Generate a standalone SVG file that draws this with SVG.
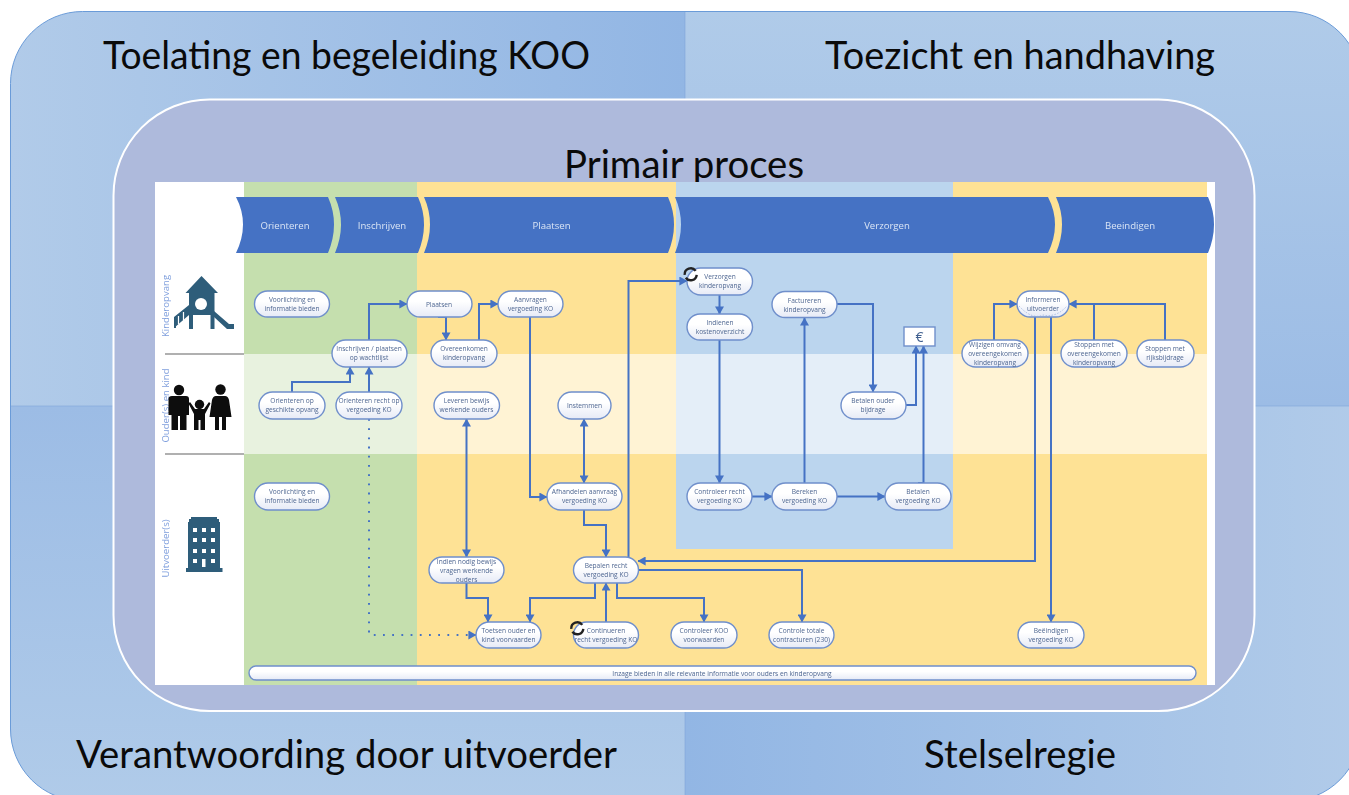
<svg xmlns="http://www.w3.org/2000/svg" width="1349" height="795" viewBox="0 0 1349 795">
<style>
.t{font-family:"Lato","Open Sans",sans-serif;font-size:38px;fill:#0a0a0a;text-anchor:middle}
.n rect{fill:url(#ng);stroke:#6f8fcb;stroke-width:1.4}
.n text{font-family:"Open Sans","Noto Sans",sans-serif;font-size:6.6px;fill:#4e6691;text-anchor:middle}
.ch{fill:#4472c4}
.cht{font-family:"Open Sans","Noto Sans",sans-serif;font-size:9.6px;fill:#dbe5f5;text-anchor:middle}
.lane{font-family:"Open Sans","Noto Sans",sans-serif;font-size:9.6px;fill:#7f9fdd;text-anchor:middle}
.c{fill:none;stroke:#4472c4;stroke-width:2}
.ic{fill:#2f5d7a}
.k{fill:#0a0a0a}
</style>
<defs>
<filter id="soft" x="0" y="0" width="1" height="1"><feGaussianBlur stdDeviation="0.35"/></filter>
<linearGradient id="ng" x1="0" y1="0" x2="0" y2="1"><stop offset="0.4" stop-color="#ffffff"/><stop offset="1" stop-color="#e6eaf6"/></linearGradient>
<linearGradient id="q1" x1="0" y1="0" x2="1" y2="0"><stop offset="0" stop-color="#b1cbe9"/><stop offset="1" stop-color="#92b6e4"/></linearGradient>
<linearGradient id="q2" x1="0" y1="0" x2="0" y2="1"><stop offset="0" stop-color="#b0cbe9"/><stop offset="1" stop-color="#9cbce5"/></linearGradient>
<linearGradient id="q3" x1="0" y1="0" x2="0" y2="1"><stop offset="0" stop-color="#9cbce5"/><stop offset="1" stop-color="#b0cbe9"/></linearGradient>
<linearGradient id="q4" x1="0" y1="0" x2="1" y2="0"><stop offset="0" stop-color="#92b6e4"/><stop offset="1" stop-color="#b1cbe9"/></linearGradient>
<clipPath id="outer"><rect x="10.500" y="11.500" width="1350.500" height="789.500" rx="72"/></clipPath>
<marker id="a" viewBox="0 0 8 9" refX="7.600" refY="4.500" markerWidth="8" markerHeight="9" markerUnits="userSpaceOnUse" orient="auto-start-reverse"><path d="M0 0L8 4.500L0 9Z" fill="#4472c4"/></marker>
</defs>

<g id="background">
<g clip-path="url(#outer)">
<rect x="10" y="11" width="675" height="395" fill="url(#q1)"/>
<rect x="685" y="11" width="677" height="395" fill="url(#q2)"/>
<rect x="10" y="406" width="675" height="396" fill="url(#q3)"/>
<rect x="685" y="406" width="677" height="396" fill="url(#q4)"/>
<path d="M685 11V802M10 406H1362" stroke="#7fa6d9" stroke-width="0.6" fill="none"/>
</g>
<rect x="10.500" y="11.500" width="1350.500" height="789.500" rx="72" fill="none" stroke="#6a9bd8" stroke-width="1"/>
<rect x="113.500" y="99.500" width="1141" height="611.500" rx="96" fill="#aebadc" stroke="#ffffff" stroke-width="2"/>
</g>

<g id="titles">
<text class="t" x="346.500" y="69" textLength="487" lengthAdjust="spacingAndGlyphs">Toelating en begeleiding KOO</text>
<text class="t" x="1020" y="69" textLength="390" lengthAdjust="spacingAndGlyphs">Toezicht en handhaving</text>
<text class="t" x="346.500" y="768" textLength="541" lengthAdjust="spacingAndGlyphs">Verantwoording door uitvoerder</text>
<text class="t" x="1020" y="768" textLength="192" lengthAdjust="spacingAndGlyphs">Stelselregie</text>
<text class="t" x="684" y="177.500" textLength="240" lengthAdjust="spacingAndGlyphs">Primair proces</text>
</g>

<g id="process" filter="url(#soft)">
<g id="swimlanes">
<rect x="155" y="182" width="1060" height="503" fill="#ffffff"/>
<rect x="244" y="182" width="173" height="503" fill="#c5dfae"/>
<rect x="417" y="182" width="259" height="503" fill="#fee295"/>
<rect x="676" y="182" width="277" height="367" fill="#bbd5ee"/>
<rect x="676" y="549" width="277" height="136" fill="#fee295"/>
<rect x="953" y="182" width="254" height="503" fill="#fee295"/>
<rect x="244" y="354" width="963" height="100" fill="#ffffff" fill-opacity="0.6"/>
<path d="M165 354H244M165 454H244" stroke="#969696" stroke-width="1.300" fill="none"/>
<text class="lane" transform="translate(168.500 306) rotate(-90)">Kinderopvang</text>
<text class="lane" transform="translate(168.500 405.500) rotate(-90)">Ouder(s) en kind</text>
<text class="lane" transform="translate(168.500 548.500) rotate(-90)">Uitvoerder(s)</text>
</g>

<g id="icon-playground">
<path class="ic" d="M201.500 276L218 293H214.500V329H210.500V315H193V329H189V293H185.500Z"/>
<circle cx="201" cy="304" r="6" fill="#ffffff"/>
<path class="ic" d="M174 328L189 315V305L174 317ZM174 317V328H176V317Z"/>
<path class="ic" d="M214 311L229 324H234V329H227L214 317Z"/>
<path d="M178.500 316V324M183.500 312V320" stroke="#ffffff" stroke-width="1.200"/>
</g>
<g id="icon-family">
<circle class="k" cx="179" cy="390" r="5.200"/>
<path class="k" d="M172 396H186Q189 396 189 399V415H186.500V430H180V416H178V430H171.500V415H168.500V399Q168.500 396 172 396Z"/>
<circle class="k" cx="199.500" cy="404.500" r="4.700"/>
<path class="k" d="M190 402L195 409H204L209 402L210.500 403.500L205 414V430H200.500V420H198.500V430H194V414L188.500 403.500Z"/>
<circle class="k" cx="220.500" cy="389.500" r="5.200"/>
<path class="k" d="M216 396H225Q228 396 229 400L231.500 417H226V430H222V417H219V430H215V417H209.500L212 400Q213 396 216 396Z"/>
</g>
<g id="icon-building">
<path class="ic" d="M191 517H217V519H219V522H220V568H222.500V572H186V568H188V522H189V519H191Z"/>
<path fill="#ffffff" d="M193 528h4v4h-4zM202 528h4v4h-4zM211 528h4v4h-4zM193 538h4v4h-4zM202 538h4v4h-4zM211 538h4v4h-4zM193 549h4v4h-4zM202 549h4v4h-4zM211 549h4v4h-4zM193 559h4v4h-4zM202 559h3.500v8h-3.500zM211 559h4v4h-4z"/>
</g>

<g id="phases">
<g id="phase-orienteren"><path class="ch" d="M236 197H328Q340 224 328 253H236Q250 224 236 197Z"/><text class="cht" x="285" y="228.500">Orienteren</text></g>
<g id="phase-inschrijven"><path class="ch" d="M335 197H418Q430 224 418 253H335Q347 224 335 197Z"/><text class="cht" x="382" y="228.500">Inschrijven</text></g>
<g id="phase-plaatsen"><path class="ch" d="M424 197H668Q680 224 668 253H424Q436 224 424 197Z"/><text class="cht" x="551.500" y="228.500">Plaatsen</text></g>
<g id="phase-verzorgen"><path class="ch" d="M675 197H1048Q1062 224 1048 253H675Q687 224 675 197Z"/><text class="cht" x="887" y="228.500">Verzorgen</text></g>
<g id="phase-beeindigen"><path class="ch" d="M1056 197H1208Q1220 224 1208 253H1056Q1068 224 1056 197Z"/><text class="cht" x="1130" y="228.500">Beeindigen</text></g>
</g>

<g id="connectors">
<path class="c" marker-end="url(#a)" d="M369 340V304H407"/>
<path class="c" marker-end="url(#a)" d="M292 392V382H350V367"/>
<path class="c" marker-end="url(#a)" d="M369 392V367"/>
<path class="c" marker-end="url(#a)" stroke-dasharray="1.800 7.400" d="M369 419V635H476"/>
<path class="c" marker-end="url(#a)" d="M438 317H446V340"/>
<path class="c" marker-end="url(#a)" d="M479 340V304H498"/>
<path class="c" marker-end="url(#a)" d="M530 317V497H547"/>
<path class="c" marker-start="url(#a)" marker-end="url(#a)" d="M466.500 419V557"/>
<path class="c" marker-start="url(#a)" marker-end="url(#a)" d="M584 419V483"/>
<path class="c" marker-end="url(#a)" d="M584 510V525H606V557"/>
<path class="c" marker-end="url(#a)" d="M466.500 583V598H488V622"/>
<path class="c" marker-end="url(#a)" d="M595 583V598H530V622"/>
<path class="c" marker-end="url(#a)" d="M606 622V583"/>
<path class="c" marker-end="url(#a)" d="M617 583V598H704V622"/>
<path class="c" marker-end="url(#a)" d="M638 570H802V622"/>
<path class="c" marker-end="url(#a)" d="M628.500 557V281H687"/>
<path class="c" marker-end="url(#a)" d="M719.500 295V314"/>
<path class="c" marker-end="url(#a)" d="M719.500 340V483"/>
<path class="c" marker-end="url(#a)" d="M752 496.500H772"/>
<path class="c" marker-end="url(#a)" d="M804.500 483V318"/>
<path class="c" marker-end="url(#a)" d="M837 496.500H885"/>
<path class="c" marker-end="url(#a)" d="M837 304H873V392"/>
<path class="c" marker-end="url(#a)" d="M906 405H916V346"/>
<path class="c" marker-end="url(#a)" d="M918 483H923.500V346"/>
<path class="c" marker-end="url(#a)" d="M994 340V304H1017"/>
<path class="c" marker-end="url(#a)" d="M1094 340V304H1069"/>
<path class="c" d="M1165 340V304H1094"/>
<path class="c" marker-end="url(#a)" d="M1035 317V561H638"/>
<path class="c" marker-end="url(#a)" d="M1051 317V622"/>
</g>

<g id="n1" class="n"><rect x="254.500" y="291" width="75" height="26" rx="13"/><text x="292" y="302">Voorlichting en</text><text x="292" y="311">informatie bieden</text></g>
<g id="n2" class="n"><rect x="407" y="291" width="65" height="26" rx="13"/><text x="439" y="306.500">Plaatsen</text></g>
<g id="n3" class="n"><rect x="332" y="340" width="75" height="27" rx="13.500"/><text x="369" y="351">Inschrijven / plaatsen</text><text x="369" y="360">op wachtlijst</text></g>
<g id="n4" class="n"><rect x="259" y="392" width="66" height="27" rx="13.500"/><text x="292" y="403">Orienteren op</text><text x="292" y="412">geschikte opvang</text></g>
<g id="n5" class="n"><rect x="336" y="392" width="66" height="27" rx="13.500"/><text x="369" y="403">Orienteren recht op</text><text x="369" y="412">vergoeding KO</text></g>
<g id="n6" class="n"><rect x="431" y="340" width="66" height="27" rx="13.500"/><text x="464" y="351">Overeenkomen</text><text x="464" y="360">kinderopvang</text></g>
<g id="n7" class="n"><rect x="498" y="291" width="65" height="26" rx="13"/><text x="530.500" y="302">Aanvragen</text><text x="530.500" y="311">vergoeding KO</text></g>
<g id="n8" class="n"><rect x="434" y="392" width="65.500" height="27" rx="13.500"/><text x="466.500" y="403">Leveren bewijs</text><text x="466.500" y="412">werkende ouders</text></g>
<g id="n9" class="n"><rect x="558" y="392" width="53" height="27" rx="13.500"/><text x="584.500" y="408">Instemmen</text></g>
<g id="n10" class="n"><rect x="687" y="268" width="65.500" height="27" rx="13.500"/><text x="720" y="279">Verzorgen</text><text x="720" y="288">kinderopvang</text></g>
<g id="n11" class="n"><rect x="687" y="314" width="65.500" height="26" rx="13"/><text x="720" y="325">Indienen</text><text x="720" y="334">kostenoverzicht</text></g>
<g id="n12" class="n"><rect x="772" y="291.500" width="65" height="26" rx="13"/><text x="804.500" y="302.500">Factureren</text><text x="804.500" y="311.500">kinderopvang</text></g>
<g id="n13"><rect x="904" y="327" width="31" height="19" fill="#ffffff" stroke="#6f8fcb" stroke-width="1.400"/><text x="919.500" y="342" font-family="'Open Sans',sans-serif" font-size="14" fill="#3f5f8f" text-anchor="middle">€</text></g>
<g id="n14" class="n"><rect x="841" y="392" width="65" height="27" rx="13.500"/><text x="873" y="403">Betalen ouder</text><text x="873" y="412">bijdrage</text></g>
<g id="n15" class="n"><rect x="1017" y="291" width="52" height="26" rx="13"/><path d="M1019 306Q1032 320 1043 315Q1056 318 1067 306" fill="none" stroke="#8ea9db" stroke-width="0.700" stroke-dasharray="1.500 1.500"/><text x="1043" y="302">Informeren</text><text x="1043" y="311">uitvoerder</text></g>
<g id="n16" class="n"><rect x="962" y="340" width="66" height="27" rx="13.500"/><text x="995" y="346.500">Wijzigen omvang</text><text x="995" y="355.500">overeengekomen</text><text x="995" y="364.500">kinderopvang</text></g>
<g id="n17" class="n"><rect x="1061" y="340" width="66" height="27" rx="13.500"/><text x="1094" y="346.500">Stoppen met</text><text x="1094" y="355.500">overeengekomen</text><text x="1094" y="364.500">kinderopvang</text></g>
<g id="n18" class="n"><rect x="1137" y="340" width="57" height="27" rx="13.500"/><text x="1165" y="351">Stoppen met</text><text x="1165" y="360">rijksbijdrage</text></g>
<g id="n19" class="n"><rect x="254.500" y="483" width="75" height="27" rx="13.500"/><text x="292" y="494">Voorlichting en</text><text x="292" y="503">informatie bieden</text></g>
<g id="n20" class="n"><rect x="429" y="557" width="75" height="26" rx="13"/><text x="466.500" y="563.500">Indien nodig bewijs</text><text x="466.500" y="572.500">vragen werkende</text><text x="466.500" y="581.500">ouders</text></g>
<g id="n21" class="n"><rect x="476" y="622" width="65" height="26" rx="13"/><text x="508.500" y="633">Toetsen ouder en</text><text x="508.500" y="642">kind voorvaarden</text></g>
<g id="n22" class="n"><rect x="547" y="483" width="75" height="27" rx="13.500"/><text x="584.500" y="494">Afhandelen aanvraag</text><text x="584.500" y="503">vergoeding KO</text></g>
<g id="n23" class="n"><rect x="573.500" y="557" width="65" height="26" rx="13"/><text x="606" y="568">Bepalen recht</text><text x="606" y="577">vergoeding KO</text></g>
<g id="n24" class="n"><rect x="573.500" y="622" width="65" height="26" rx="13"/><text x="606" y="633">Continueren</text><text x="606" y="642">recht vergoeding KO</text></g>
<g id="n25" class="n"><rect x="671" y="622" width="66" height="26" rx="13"/><text x="704" y="633">Controleer KOO</text><text x="704" y="642">voorwaarden</text></g>
<g id="n26" class="n"><rect x="769" y="622" width="65" height="26" rx="13"/><text x="801.500" y="633">Controle totale</text><text x="801.500" y="642">contracturen (230)</text></g>
<g id="n27" class="n"><rect x="687" y="483" width="65" height="27" rx="13.500"/><text x="719.500" y="494">Controleer recht</text><text x="719.500" y="503">vergoeding KO</text></g>
<g id="n28" class="n"><rect x="772" y="483" width="65" height="27" rx="13.500"/><text x="804.500" y="494">Bereken</text><text x="804.500" y="503">vergoeding KO</text></g>
<g id="n29" class="n"><rect x="885" y="483" width="66" height="27" rx="13.500"/><text x="918" y="494">Betalen</text><text x="918" y="503">vergoeding KO</text></g>
<g id="n30" class="n"><rect x="1018" y="622" width="66" height="26" rx="13"/><text x="1051" y="633">Beëindigen</text><text x="1051" y="642">vergoeding KO</text></g>
<g id="n31" class="n"><rect x="249" y="666" width="947" height="14" rx="7"/><text x="722" y="675.500">Inzage bieden in alle relevante informatie voor ouders en kinderopvang</text></g>

<g id="loop-icons" fill="none" stroke="#222222" stroke-width="2.400">
<path d="M684.700 274.800A6 6 0 0 1 695.600 270.900M696.700 274.800A6 6 0 0 1 685.800 277.700"/>
<path d="M571.300 628.800A6 6 0 0 1 582.200 624.900M583.300 628.800A6 6 0 0 1 572.400 631.700"/>
</g>
</g>
</svg>
